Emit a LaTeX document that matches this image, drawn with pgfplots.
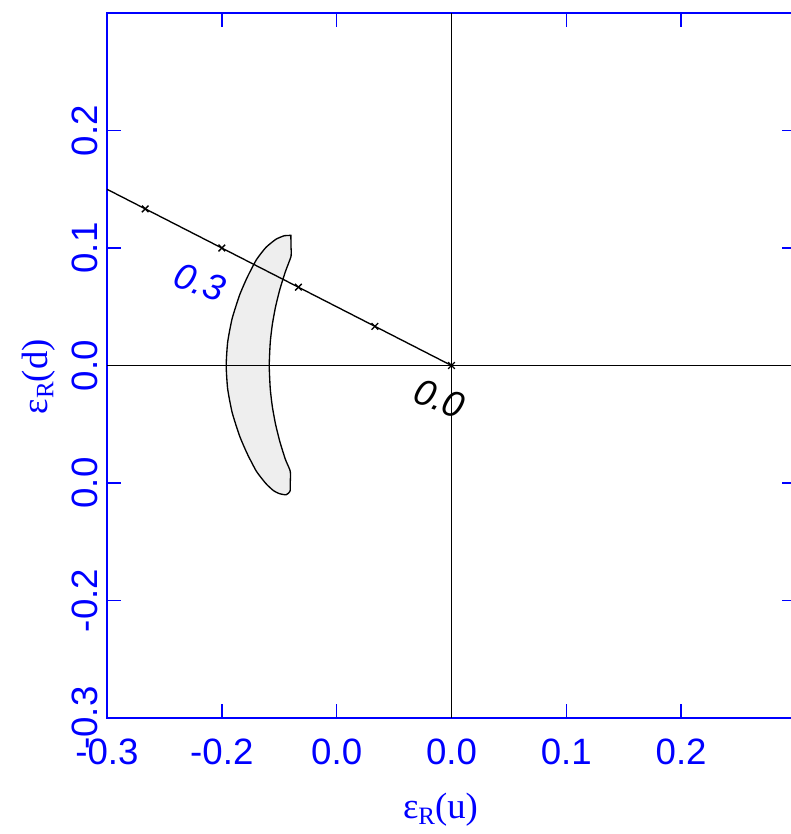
\documentclass[border=0pt]{standalone}
\usepackage{fontspec}
\setmainfont{Liberation Sans}
\newfontfamily\serif{Liberation Serif}
\usepackage{pgfplots}
\pgfplotsset{compat=1.18}
\definecolor{crescent}{RGB}{238,238,238}

\begin{document}
\begin{tikzpicture}
\begin{axis}[
  name=ax,
  scale only axis,
  width=206.7pt, height=211.5pt,
  xmin=-0.3, xmax=0.3, ymin=-0.3, ymax=0.3,
  axis line style={blue, line width=0.45pt},
  tick style={blue, line width=0.45pt},
  major tick length=4.2pt,
  tick align=inside,
  xtick={-0.3,-0.2,-0.1,0,0.1,0.2},
  xticklabels={-0.3,-0.2,0.0,0.0,0.1,0.2},
  ytick={-0.3,-0.2,-0.1,0,0.1,0.2},
  yticklabels={-0.3,-0.2,0.0,0.0,0.1,0.2},
  tick label style={font=\fontsize{11}{13}\selectfont, text=blue},
  xticklabel shift=2.6pt,
  yticklabel style={rotate=90, anchor=south, inner sep=2.5pt},
  xlabel={ε\raisebox{-0.35ex}{\fontsize{7.5}{8}\selectfont R}(u)},
  ylabel={ε\raisebox{-0.35ex}{\fontsize{7.5}{8}\selectfont R}(d)},
  label style={font=\serif\fontsize{11}{13}\selectfont, text=blue},
  xlabel style={at={(ticklabel cs:0.484,1.7pt)}},
  ylabel style={at={(ticklabel cs:0.484,-1pt)}},
]
% crescent region
\addplot[fill=crescent, draw=black, line width=0.4pt, smooth, tension=0.35] coordinates {
  (-0.1399,0.1108) (-0.1397,0.1000) (-0.1397,0.0930) (-0.1446,0.0800)
  (-0.1494,0.0650) (-0.1532,0.0500) (-0.1560,0.0350) (-0.1578,0.0200)
  (-0.1587,0.0) (-0.1578,-0.0200) (-0.1560,-0.0350) (-0.1532,-0.0500)
  (-0.1494,-0.0650) (-0.1446,-0.0800) (-0.1404,-0.0900) (-0.1404,-0.1000)
  (-0.1406,-0.1070) (-0.1440,-0.1100) (-0.1500,-0.1090) (-0.1550,-0.1065)
  (-0.1616,-0.1005) (-0.1699,-0.0900) (-0.1779,-0.0750) (-0.1845,-0.0600)
  (-0.1910,-0.0400) (-0.1949,-0.0200) (-0.1962,0.0) (-0.1949,0.0200)
  (-0.1910,0.0400) (-0.1845,0.0600) (-0.1779,0.0750) (-0.1699,0.0900)
  (-0.1616,0.1005) (-0.1528,0.1075) (-0.1456,0.1105)
} -- cycle;
% zero lines
\addplot[black, line width=0.4pt] coordinates {(-0.3,0) (0.3,0)};
\addplot[black, line width=0.4pt] coordinates {(0,-0.3) (0,0.3)};
% trajectory
\addplot[black, line width=0.4pt] coordinates {(-0.3,0.15) (0,0)};
\addplot[black, only marks, mark=x, mark size=1.4pt, mark options={line width=0.4pt}] coordinates {
  (-0.2667,0.1333) (-0.2,0.1) (-0.1333,0.0667) (-0.0667,0.0333) (0,0)
};
\node[blue, rotate=-20, font=\itshape\fontsize{11}{13}\selectfont] at (axis cs:-0.219,0.0708) {0.3};
\node[black, rotate=-20, font=\itshape\fontsize{11}{13}\selectfont] at (axis cs:-0.0105,-0.0281) {0.0};
\end{axis}
\pgfresetboundingbox
\path (ax.south west) ++(-32.1pt,-34.8pt) rectangle ++(237.3pt,250.2pt);
\end{tikzpicture}
\end{document}
